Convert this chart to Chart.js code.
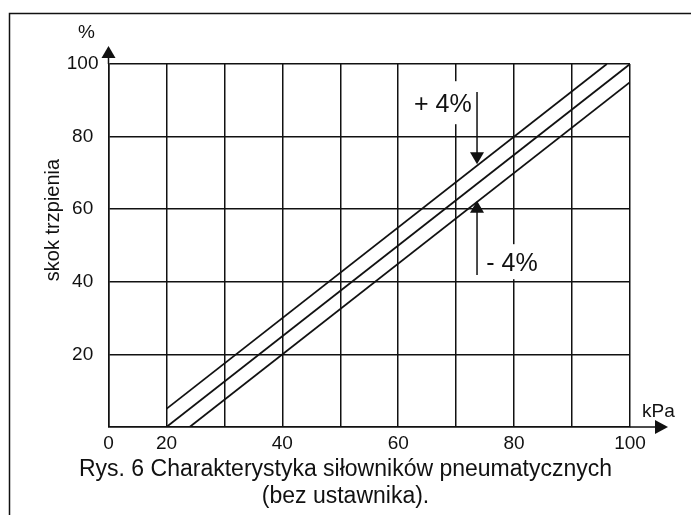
<!DOCTYPE html>
<html>
<head>
<meta charset="utf-8">
<script src="https://cdn.jsdelivr.net/npm/chart.js@4/dist/chart.umd.min.js"></script>
<style>
  html, body { margin: 0; padding: 0; background: #fff; }
  #wrap { width: 691px; height: 515px; }
</style>
</head>
<body>
<div id="wrap"><canvas id="chart" width="691" height="515"></canvas></div>
<script>
// Charakterystyka: ciśnienie sterujące (kPa) -> skok trzpienia (%)
const pressureNominal = [20, 100];
const travelNominal   = [0, 100];
const pressureUpper   = [20, 96];
const travelUpper     = [5, 100];
const pressureLower   = [24, 100];
const travelLower     = [0, 95];

const xTicks = [10, 20, 30, 40, 50, 60, 70, 80, 90, 100];
const xTickLabels = ['0', '20', '', '40', '', '60', '', '80', '', '100'];
const yTickLabels = ['', '20', '40', '60', '80', '100'];

const FONT = "'Liberation Sans', Arial, sans-serif";
const INK = '#111';

const toPoints = (xs, ys) => xs.map((v, i) => ({ x: v, y: ys[i] }));

function arrowHead(ctx, tipX, tipY, dir, len, half) {
  // dir: 'up' | 'down' | 'right'
  ctx.beginPath();
  if (dir === 'up') {
    ctx.moveTo(tipX, tipY); ctx.lineTo(tipX - half, tipY + len); ctx.lineTo(tipX + half, tipY + len);
  } else if (dir === 'down') {
    ctx.moveTo(tipX, tipY); ctx.lineTo(tipX - half, tipY - len); ctx.lineTo(tipX + half, tipY - len);
  } else {
    ctx.moveTo(tipX, tipY); ctx.lineTo(tipX - len, tipY - half); ctx.lineTo(tipX - len, tipY + half);
  }
  ctx.closePath();
  ctx.fill();
}

const extras = {
  id: 'extras',
  afterDraw(chart) {
    const { ctx, chartArea: a, scales: { x, y } } = chart;
    ctx.save();
    ctx.strokeStyle = INK;
    ctx.fillStyle = INK;
    ctx.lineWidth = 1.5;

    // ramka rysunku
    ctx.beginPath();
    ctx.moveTo(9.5, chart.height); ctx.lineTo(9.5, 13.5); ctx.lineTo(chart.width, 13.5);
    ctx.stroke();

    // strzałki osi
    const x0 = x.getPixelForValue(10), y0 = y.getPixelForValue(0);
    ctx.beginPath();
    ctx.moveTo(x0, a.top); ctx.lineTo(x0, a.top - 8);
    ctx.moveTo(a.right, y0); ctx.lineTo(a.right + 26, y0);
    ctx.stroke();
    arrowHead(ctx, x0, a.top - 18, 'up', 12, 7);
    arrowHead(ctx, a.right + 38, y0, 'right', 13, 7);

    // opisy osi
    ctx.font = '19px ' + FONT;
    ctx.textBaseline = 'middle';
    ctx.textAlign = 'center';
    ctx.fillText('%', x0 - 22, 33);
    ctx.textAlign = 'left';
    ctx.fillText('kPa', a.right + 12, 412);

    ctx.save();
    ctx.translate(53, 220);
    ctx.rotate(-Math.PI / 2);
    ctx.textAlign = 'center';
    ctx.font = '20px ' + FONT;
    ctx.fillText('skok trzpienia', 0, 0);
    ctx.restore();

    // tolerancja +/- 4%
    ctx.font = '25px ' + FONT;
    ctx.textAlign = 'center';
    const plusX = x.getPixelForValue(67.7), plusY = y.getPixelForValue(89.2);
    ctx.fillStyle = '#fff';
    ctx.fillRect(plusX - 32, plusY - 22, 64, 43);
    ctx.fillStyle = INK;
    ctx.fillText('+ 4%', plusX, plusY + 2);

    ctx.textAlign = 'left';
    const minusX = x.getPixelForValue(75.2), minusY = y.getPixelForValue(45.4);
    ctx.fillStyle = '#fff';
    ctx.fillRect(minusX - 2, minusY - 18, 58, 35);
    ctx.fillStyle = INK;
    ctx.fillText('- 4%', minusX, minusY + 2);

    const ax = x.getPixelForValue(73.6);
    const downTip = y.getPixelForValue(72.4), upTip = y.getPixelForValue(62.3);
    ctx.beginPath();
    ctx.moveTo(ax, y.getPixelForValue(92.3)); ctx.lineTo(ax, downTip - 10);
    ctx.moveTo(ax, y.getPixelForValue(41.9)); ctx.lineTo(ax, upTip + 10);
    ctx.stroke();
    arrowHead(ctx, ax, downTip, 'down', 12, 7);
    arrowHead(ctx, ax, upTip, 'up', 12, 7);

    // podpis
    ctx.font = '23px ' + FONT;
    ctx.textAlign = 'center';
    ctx.fillText('Rys. 6 Charakterystyka siłowników pneumatycznych', chart.width / 2, 470);
    ctx.fillText('(bez ustawnika).', chart.width / 2, 497);
    ctx.restore();
  }
};

const lineStyle = {
  showLine: true,
  borderColor: INK,
  borderWidth: 1.8,
  pointRadius: 0,
  fill: false
};

new Chart(document.getElementById('chart'), {
  type: 'scatter',
  data: {
    datasets: [
      { ...lineStyle, label: 'nominalna', data: toPoints(pressureNominal, travelNominal) },
      { ...lineStyle, label: '+4%', data: toPoints(pressureUpper, travelUpper) },
      { ...lineStyle, label: '-4%', data: toPoints(pressureLower, travelLower) }
    ]
  },
  options: {
    responsive: false,
    animation: false,
    layout: { padding: { top: 64, right: 61, bottom: 0, left: 0 } },
    plugins: {
      legend: { display: false },
      tooltip: { enabled: false }
    },
    scales: {
      x: {
        type: 'linear',
        min: 10,
        max: 100,
        afterFit: (s) => { s.height = 88; },
        afterBuildTicks: (s) => { s.ticks = xTicks.map(v => ({ value: v })); },
        grid: { color: INK, lineWidth: 1.5, drawTicks: false },
        border: { color: INK, width: 1.5 },
        ticks: {
          color: INK,
          padding: 5,
          maxRotation: 0,
          autoSkip: false,
          font: { family: FONT, size: 19 },
          callback: (v) => xTickLabels[xTicks.indexOf(v)] ?? ''
        }
      },
      y: {
        min: 0,
        max: 100,
        afterFit: (s) => { s.width = 108.5; },
        grid: { color: INK, lineWidth: 1.5, drawTicks: false },
        border: { color: INK, width: 1.5 },
        ticks: {
          stepSize: 20,
          color: INK,
          padding: 10,
          crossAlign: 'center',
          font: { family: FONT, size: 19 },
          callback: (v) => yTickLabels[v / 20] ?? ''
        }
      }
    }
  },
  plugins: [extras]
});
</script>
</body>
</html>
